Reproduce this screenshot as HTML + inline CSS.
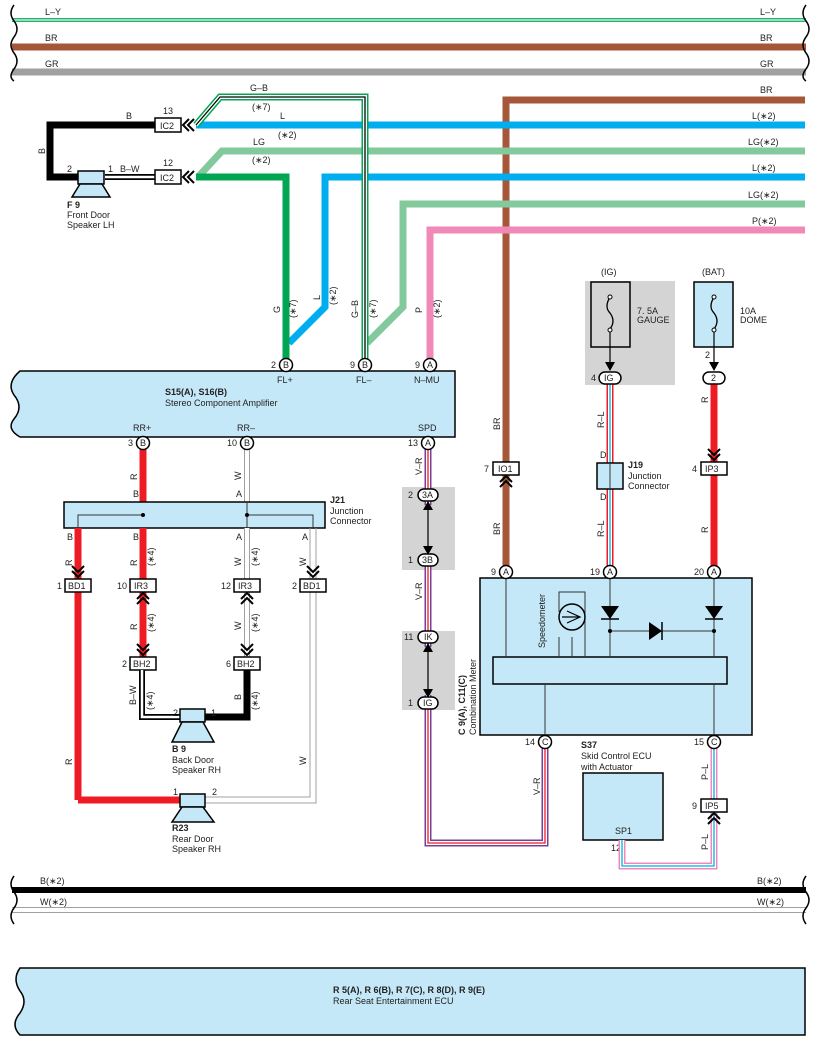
<!DOCTYPE html>
<html><head><meta charset="utf-8"><style>
html,body{margin:0;padding:0;background:#fff}
svg{display:block;font-family:"Liberation Sans",Arial,sans-serif}
text{font-size:9px;fill:#222}
.b{font-weight:bold}
</style></head><body>
<svg width="818" height="1045" viewBox="0 0 818 1045" xmlns="http://www.w3.org/2000/svg">
<defs>
<g id="chL"><polyline points="8,-6 2,0 8,6" fill="none" stroke="#000" stroke-width="2"/><polyline points="13,-6 7,0 13,6" fill="none" stroke="#000" stroke-width="2"/></g>
<g id="chD"><polyline points="-6,-8 0,-2 6,-8" fill="none" stroke="#000" stroke-width="2"/><polyline points="-6,-13 0,-7 6,-13" fill="none" stroke="#000" stroke-width="2"/></g>
<g id="chU"><polyline points="-6,8 0,2 6,8" fill="none" stroke="#000" stroke-width="2"/><polyline points="-6,13 0,7 6,13" fill="none" stroke="#000" stroke-width="2"/></g>
</defs>

<line x1="12" y1="20" x2="806" y2="20" stroke="#00aeef" stroke-width="4"/>
<line x1="12" y1="20" x2="806" y2="20" stroke="#fff200" stroke-width="1.5"/>
<line x1="12" y1="47" x2="806" y2="47" stroke="#a5573a" stroke-width="7"/>
<line x1="12" y1="72" x2="806" y2="72" stroke="#a0a0a0" stroke-width="7"/>
<path d="M14,5 q-6,8 0,16 q6,8 0,16 q-6,8 0,16 q6,8 0,16 q-6,8 0,12" fill="none" stroke="#000" stroke-width="1.5"/>
<path d="M806,5 q-6,8 0,16 q6,8 0,16 q-6,8 0,16 q6,8 0,16 q-6,8 0,12" fill="none" stroke="#000" stroke-width="1.5"/>
<text x="45" y="15">L–Y</text><text x="760" y="15">L–Y</text>
<text x="45" y="41">BR</text><text x="760" y="41">BR</text>
<text x="45" y="67">GR</text><text x="760" y="67">GR</text>

<polyline points="805,100 506,100 506,572" fill="none" stroke="#a5573a" stroke-width="7"/>
<text x="760" y="93">BR</text>
<line x1="196" y1="125" x2="805" y2="125" stroke="#00aeef" stroke-width="7"/>
<text x="280" y="119">L</text><text x="278" y="138">(∗2)</text><text x="752" y="119">L(∗2)</text>
<polyline points="805,151 222,151 198,177" fill="none" stroke="#82c99c" stroke-width="7"/>
<text x="253" y="145">LG</text><text x="252" y="163">(∗2)</text><text x="748" y="145">LG(∗2)</text>
<polyline points="805,177 325,177 325,307 289,343" fill="none" stroke="#00aeef" stroke-width="7"/>
<text x="752" y="171">L(∗2)</text>
<polyline points="805,204 403,204 403,307 367,343" fill="none" stroke="#82c99c" stroke-width="7"/>
<text x="748" y="198">LG(∗2)</text>
<polyline points="805,230 430,230 430,359" fill="none" stroke="#f088b8" stroke-width="7"/>
<text x="752" y="224">P(∗2)</text>
<polyline points="196,177 286,177 286,359" fill="none" stroke="#00a651" stroke-width="7"/>
<polyline points="196,125 220,97 365,97 365,359" fill="none" stroke="#00a651" stroke-width="7"/>
<polyline points="196,125 220,97 365,97 365,359" fill="none" stroke="#fff" stroke-width="4"/>
<polyline points="196,125 220,97 365,97 365,359" fill="none" stroke="#000" stroke-width="1.3"/>
<text x="250" y="91">G–B</text><text x="252" y="110">(∗7)</text>
<polyline points="155,125 50,125 50,177 78,177" fill="none" stroke="#000" stroke-width="7"/>
<text x="126" y="119">B</text>
<text transform="translate(45,154) rotate(-90)">B</text>
<line x1="105" y1="177" x2="155" y2="177" stroke="#000" stroke-width="6"/>
<line x1="105" y1="177" x2="155" y2="177" stroke="#fff" stroke-width="2.5"/>
<text x="67" y="172">2</text><text x="108" y="172">1</text><text x="120" y="172">B–W</text>
<rect x="155" y="118" width="26" height="14" fill="#fff" stroke="#000" stroke-width="1.5"/><text x="160" y="129">IC2</text><text x="163" y="114">13</text>
<rect x="155" y="170" width="26" height="14" fill="#fff" stroke="#000" stroke-width="1.5"/><text x="160" y="181">IC2</text><text x="163" y="166">12</text>
<use href="#chL" x="181" y="125"/><use href="#chL" x="181" y="177"/>
<rect x="78" y="171" width="26" height="13" fill="#c5e8f8" stroke="#000" stroke-width="1.5"/>
<polygon points="80,184 102,184 110,197 72,197" fill="#c5e8f8" stroke="#000" stroke-width="1.5"/>
<text x="67" y="208" class="b">F 9</text><text x="67" y="218">Front Door</text><text x="67" y="228">Speaker LH</text>
<text transform="translate(280,313) rotate(-90)">G</text><text transform="translate(296,318) rotate(-90)">(∗7)</text>
<text transform="translate(320,300) rotate(-90)">L</text><text transform="translate(336,305) rotate(-90)">(∗2)</text>
<text transform="translate(358,318) rotate(-90)">G–B</text><text transform="translate(376,318) rotate(-90)">(∗7)</text>
<text transform="translate(422,313) rotate(-90)">P</text><text transform="translate(440,318) rotate(-90)">(∗2)</text>

<path d="M20,371 L455,371 L455,437 L20,437 q-14,-8 -6,-18 q10,-12 0,-24 q-8,-12 6,-24 z" fill="#c5e8f8" stroke="#000" stroke-width="1.5"/>
<text x="165" y="395" class="b">S15(A), S16(B)</text><text x="165" y="406">Stereo Component Amplifier</text>
<text x="277" y="383">FL+</text><text x="356" y="383">FL–</text><text x="414" y="383">N–MU</text>
<text x="133" y="431">RR+</text><text x="237" y="431">RR–</text><text x="418" y="431">SPD</text>

<line x1="143" y1="443" x2="143" y2="585" stroke="#ed1c24" stroke-width="7"/>
<line x1="247" y1="443" x2="247" y2="505" stroke="#a0a0a0" stroke-width="6"/><line x1="247" y1="443" x2="247" y2="505" stroke="#fff" stroke-width="4"/>
<rect x="64" y="502" width="261" height="26" fill="#c5e8f8" stroke="#000" stroke-width="1.5"/>
<polyline points="78,528 78,515 143,515" fill="none" stroke="#333" stroke-width="1"/>
<polyline points="313,528 313,515 247,515" fill="none" stroke="#333" stroke-width="1"/>
<line x1="247" y1="502" x2="247" y2="528" stroke="#333" stroke-width="1"/>
<circle cx="143" cy="515" r="2" fill="#000"/><circle cx="247" cy="515" r="2" fill="#000"/>
<text x="330" y="503" class="b">J21</text><text x="330" y="514">Junction</text><text x="330" y="524">Connector</text>
<text x="133" y="497">B</text><text x="236" y="497">A</text>
<text transform="translate(137,480) rotate(-90)">R</text><text transform="translate(241,480) rotate(-90)">W</text>
<line x1="78" y1="528" x2="78" y2="800" stroke="#ed1c24" stroke-width="7"/>
<polyline points="78,800 180,800" fill="none" stroke="#ed1c24" stroke-width="7"/>
<line x1="143" y1="528" x2="143" y2="663" stroke="#ed1c24" stroke-width="7"/>
<line x1="247" y1="528" x2="247" y2="663" stroke="#a0a0a0" stroke-width="6"/><line x1="247" y1="528" x2="247" y2="663" stroke="#fff" stroke-width="4"/>
<polyline points="310,528 310,797 205,797" fill="none" stroke="#a0a0a0" stroke-width="1"/>
<polyline points="316,528 316,803 205,803" fill="none" stroke="#a0a0a0" stroke-width="1"/>
<text x="67" y="540">B</text><text x="133" y="540">B</text><text x="236" y="540">A</text><text x="302" y="540">A</text>
<text transform="translate(72,566) rotate(-90)">R</text><text transform="translate(137,566) rotate(-90)">R</text><text transform="translate(154,566) rotate(-90)">(∗4)</text>
<text transform="translate(241,566) rotate(-90)">W</text><text transform="translate(258,566) rotate(-90)">(∗4)</text><text transform="translate(306,566) rotate(-90)">W</text>
<text transform="translate(137,630) rotate(-90)">R</text><text transform="translate(154,632) rotate(-90)">(∗4)</text>
<text transform="translate(241,630) rotate(-90)">W</text><text transform="translate(258,632) rotate(-90)">(∗4)</text>
<use href="#chD" x="78" y="579"/><use href="#chD" x="313" y="579"/>
<use href="#chU" x="143" y="591"/><use href="#chU" x="247" y="591"/>
<use href="#chD" x="143" y="657"/><use href="#chD" x="247" y="657"/>
<g fill="#fff" stroke="#000" stroke-width="1.5">
<rect x="65" y="579" width="26" height="13"/><rect x="130" y="579" width="26" height="13"/><rect x="234" y="579" width="26" height="13"/><rect x="300" y="579" width="26" height="13"/>
<rect x="130" y="657" width="26" height="13"/><rect x="234" y="657" width="26" height="13"/>
</g>
<text x="68" y="589">BD1</text><text x="134" y="589">IR3</text><text x="238" y="589">IR3</text><text x="303" y="589">BD1</text>
<text x="57" y="589">1</text><text x="117" y="589">10</text><text x="221" y="589">12</text><text x="292" y="589">2</text>
<text x="133" y="667">BH2</text><text x="237" y="667">BH2</text><text x="122" y="667">2</text><text x="226" y="667">6</text>
<polyline points="142,670 142,717 180,717" fill="none" stroke="#000" stroke-width="6"/>
<polyline points="142,670 142,717 180,717" fill="none" stroke="#fff" stroke-width="2.5"/>
<polyline points="247,670 247,717 205,717" fill="none" stroke="#000" stroke-width="7"/>
<text transform="translate(136,705) rotate(-90)">B–W</text><text transform="translate(153,710) rotate(-90)">(∗4)</text>
<text transform="translate(241,700) rotate(-90)">B</text><text transform="translate(258,710) rotate(-90)">(∗4)</text>
<text x="173" y="716">2</text><text x="211" y="716">1</text>
<rect x="180" y="709" width="25" height="13" fill="#c5e8f8" stroke="#000" stroke-width="1.5"/>
<polygon points="182,722 203,722 214,742 172,742" fill="#c5e8f8" stroke="#000" stroke-width="1.5"/>
<text x="172" y="752" class="b">B 9</text><text x="172" y="763">Back Door</text><text x="172" y="773">Speaker RH</text>
<text transform="translate(72,765) rotate(-90)">R</text><text transform="translate(306,765) rotate(-90)">W</text>
<text x="173" y="795">1</text><text x="212" y="795">2</text>
<rect x="180" y="794" width="25" height="13" fill="#c5e8f8" stroke="#000" stroke-width="1.5"/>
<polygon points="182,807 203,807 214,822 172,822" fill="#c5e8f8" stroke="#000" stroke-width="1.5"/>
<text x="172" y="831" class="b">R23</text><text x="172" y="842">Rear Door</text><text x="172" y="852">Speaker RH</text>

<rect x="402" y="487" width="53" height="83" fill="#d4d4d4"/>
<rect x="402" y="631" width="53" height="79" fill="#d4d4d4"/>
<polyline points="428,443 428,843 545,843 545,742" fill="none" stroke="#7b3f98" stroke-width="7"/>
<polyline points="428,443 428,843 545,843 545,742" fill="none" stroke="#fff" stroke-width="4"/>
<polyline points="428,443 428,843 545,843 545,742" fill="none" stroke="#ed1c24" stroke-width="1.3"/>
<rect x="420" y="505" width="16" height="48" fill="#d4d4d4"/>
<rect x="420" y="647" width="16" height="48" fill="#d4d4d4"/>
<line x1="428" y1="505" x2="428" y2="551" stroke="#000" stroke-width="1.2"/>
<line x1="428" y1="647" x2="428" y2="694" stroke="#000" stroke-width="1.2"/>
<polygon points="423,510 428,501 433,510" fill="#000"/><polygon points="423,546 428,555 433,546" fill="#000"/>
<polygon points="423,652 428,643 433,652" fill="#000"/><polygon points="423,689 428,698 433,689" fill="#000"/>
<text transform="translate(422,475) rotate(-90)">V–R</text><text transform="translate(422,600) rotate(-90)">V–R</text>
<text transform="translate(540,795) rotate(-90)">V–R</text>
<g fill="#fff" stroke="#000" stroke-width="1.5">
<rect x="418" y="489" width="20" height="12" rx="6"/><rect x="418" y="554" width="20" height="12" rx="6"/>
<rect x="418" y="631" width="20" height="12" rx="6"/><rect x="418" y="697" width="20" height="12" rx="6"/>
</g>
<text x="422" y="498">3A</text><text x="422" y="563">3B</text><text x="424" y="640">IK</text><text x="423" y="706">IG</text>
<text x="408" y="498">2</text><text x="408" y="563">1</text><text x="404" y="640">11</text><text x="408" y="706">1</text>

<rect x="585" y="281" width="90" height="104" fill="#d4d4d4"/>
<rect x="591" y="282" width="39" height="65" fill="#d4d4d4" stroke="#000" stroke-width="1.5"/>
<rect x="694" y="282" width="39" height="65" fill="#c5e8f8" stroke="#000" stroke-width="1.5"/>
<path d="M610,297 q-6,10 0,16 q6,8 0,16" fill="none" stroke="#000" stroke-width="1.3"/>
<path d="M714,297 q-6,10 0,16 q6,8 0,16" fill="none" stroke="#000" stroke-width="1.3"/>
<circle cx="610" cy="297" r="2" fill="#fff" stroke="#000"/><circle cx="610" cy="330" r="2" fill="#fff" stroke="#000"/>
<circle cx="714" cy="297" r="2" fill="#fff" stroke="#000"/><circle cx="714" cy="330" r="2" fill="#fff" stroke="#000"/>
<line x1="610" y1="332" x2="610" y2="370" stroke="#000" stroke-width="1.2"/>
<line x1="714" y1="332" x2="714" y2="370" stroke="#000" stroke-width="1.2"/>
<polygon points="605,362 610,371 615,362" fill="#000"/><polygon points="709,362 714,371 719,362" fill="#000"/>
<text x="601" y="275">(IG)</text><text x="702" y="275">(BAT)</text>
<text x="637" y="314">7. 5A</text><text x="637" y="323">GAUGE</text>
<text x="740" y="314">10A</text><text x="740" y="323">DOME</text><text x="705" y="358">2</text>
<line x1="610" y1="384" x2="610" y2="572" stroke="#ed1c24" stroke-width="7"/>
<line x1="610" y1="384" x2="610" y2="572" stroke="#fff" stroke-width="4"/>
<line x1="610" y1="384" x2="610" y2="572" stroke="#00aeef" stroke-width="1.3"/>
<rect x="597" y="463" width="26" height="26" fill="#c5e8f8" stroke="#000" stroke-width="1.5"/>
<line x1="610" y1="463" x2="610" y2="489" stroke="#333" stroke-width="1"/>
<text x="600" y="458">D</text><text x="600" y="500">D</text>
<text x="628" y="468" class="b">J19</text><text x="628" y="479">Junction</text><text x="628" y="489">Connector</text>
<text transform="translate(604,428) rotate(-90)">R–L</text><text transform="translate(604,537) rotate(-90)">R–L</text>
<line x1="714" y1="384" x2="714" y2="572" stroke="#ed1c24" stroke-width="7"/>
<text transform="translate(708,403) rotate(-90)">R</text><text transform="translate(708,533) rotate(-90)">R</text>
<text transform="translate(500,430) rotate(-90)">BR</text><text transform="translate(500,535) rotate(-90)">BR</text>
<use href="#chU" x="506" y="474"/><use href="#chD" x="714" y="462"/>
<rect x="493" y="462" width="26" height="13" fill="#fff" stroke="#000" stroke-width="1.5"/><text x="498" y="472">IO1</text><text x="484" y="472">7</text>
<rect x="701" y="462" width="26" height="13" fill="#fff" stroke="#000" stroke-width="1.5"/><text x="705" y="472">IP3</text><text x="692" y="472">4</text>
<rect x="599" y="372" width="22" height="12" rx="6" fill="#fff" stroke="#000" stroke-width="1.5"/><text x="604" y="381">IG</text><text x="591" y="381">4</text>
<rect x="703" y="372" width="22" height="12" rx="6" fill="#fff" stroke="#000" stroke-width="1.5"/><text x="711" y="381">2</text>

<rect x="480" y="578" width="272" height="157" fill="#c5e8f8" stroke="#000" stroke-width="1.5"/>
<rect x="493" y="657" width="234" height="27" fill="#c5e8f8" stroke="#000" stroke-width="1.5"/>
<g stroke="#333" stroke-width="1" fill="none">
<line x1="506" y1="578" x2="506" y2="657"/><line x1="610" y1="578" x2="610" y2="657"/><line x1="714" y1="578" x2="714" y2="657"/>
<line x1="610" y1="631" x2="714" y2="631"/>
<line x1="545" y1="684" x2="545" y2="735"/><line x1="714" y1="684" x2="714" y2="735"/>
<polyline points="559,657 559,637"/><polyline points="572,657 572,637"/><polyline points="585,657 585,637"/>
<polyline points="559,612 559,592 585,592 585,657"/>
</g>
<circle cx="572" cy="617" r="13" fill="#c5e8f8" stroke="#000" stroke-width="1.5"/>
<path d="M567,611 L580,617 L567,623 M580,617 L562,617" fill="none" stroke="#000" stroke-width="1.2"/>
<text transform="translate(545,648) rotate(-90)">Speedometer</text>
<polygon points="601,606 619,606 610,619" fill="#000"/><line x1="601" y1="619" x2="619" y2="619" stroke="#000" stroke-width="1.5"/>
<polygon points="705,606 723,606 714,619" fill="#000"/><line x1="705" y1="619" x2="723" y2="619" stroke="#000" stroke-width="1.5"/>
<polygon points="649,622 649,640 662,631" fill="#000"/><line x1="662" y1="622" x2="662" y2="640" stroke="#000" stroke-width="1.5"/>
<circle cx="610" cy="631" r="2" fill="#000"/><circle cx="714" cy="631" r="2" fill="#000"/>
<text transform="translate(465,735) rotate(-90)" class="b">C 9(A), C11(C)</text>
<text transform="translate(476,735) rotate(-90)">Combination Meter</text>
<rect x="583" y="773" width="80" height="67" fill="#c5e8f8" stroke="#000" stroke-width="1.5"/>
<text x="581" y="748" class="b">S37</text><text x="581" y="759">Skid Control ECU</text><text x="581" y="770">with Actuator</text>
<text x="615" y="834">SP1</text><text x="611" y="851">12</text>
<polyline points="622,840 622,866 714,866 714,742" fill="none" stroke="#f088b8" stroke-width="7"/>
<polyline points="622,840 622,866 714,866 714,742" fill="none" stroke="#fff" stroke-width="4"/>
<polyline points="622,840 622,866 714,866 714,742" fill="none" stroke="#00aeef" stroke-width="1.3"/>
<text transform="translate(708,780) rotate(-90)">P–L</text><text transform="translate(708,850) rotate(-90)">P–L</text>
<use href="#chU" x="714" y="811"/>
<rect x="701" y="799" width="26" height="13" fill="#fff" stroke="#000" stroke-width="1.5"/><text x="705" y="809">IP5</text><text x="692" y="809">9</text>
<g fill="#fff" stroke="#000" stroke-width="1.5">
<circle cx="286" cy="365" r="6.5"/><circle cx="365" cy="365" r="6.5"/><circle cx="430" cy="365" r="6.5"/>
<circle cx="143" cy="443" r="6.5"/><circle cx="247" cy="443" r="6.5"/><circle cx="428" cy="443" r="6.5"/>
<circle cx="506" cy="572" r="6.5"/><circle cx="610" cy="572" r="6.5"/><circle cx="714" cy="572" r="6.5"/>
<circle cx="545" cy="742" r="6.5"/><circle cx="714" cy="742" r="6.5"/>
</g>
<g font-size="8">
<text x="283" y="368">B</text><text x="362" y="368">B</text><text x="427" y="368">A</text>
<text x="140" y="446">B</text><text x="244" y="446">B</text><text x="425" y="446">A</text>
<text x="503" y="575">A</text><text x="607" y="575">A</text><text x="711" y="575">A</text>
<text x="542" y="745">C</text><text x="711" y="745">C</text>
</g>
<text x="271" y="368">2</text><text x="350" y="368">9</text><text x="415" y="368">9</text>
<text x="128" y="446">3</text><text x="227" y="446">10</text><text x="408" y="446">13</text>
<text x="491" y="575">9</text><text x="590" y="575">19</text><text x="694" y="575">20</text>
<text x="525" y="745">14</text><text x="694" y="745">15</text>

<line x1="12" y1="890" x2="806" y2="890" stroke="#000" stroke-width="6"/>
<line x1="12" y1="910" x2="806" y2="910" stroke="#a0a0a0" stroke-width="6"/>
<line x1="12" y1="910" x2="806" y2="910" stroke="#fff" stroke-width="4"/>
<path d="M14,876 q-6,8 0,16 q6,8 0,16 q-6,8 0,16" fill="none" stroke="#000" stroke-width="1.5"/>
<path d="M806,876 q-6,8 0,16 q6,8 0,16 q-6,8 0,16" fill="none" stroke="#000" stroke-width="1.5"/>
<text x="40" y="884">B(∗2)</text><text x="757" y="884">B(∗2)</text>
<text x="40" y="905">W(∗2)</text><text x="757" y="905">W(∗2)</text>
<path d="M20,968 L805,968 L805,1035 L20,1035 q-10,-10 0,-22 q8,-12 0,-22 q-8,-12 0,-23 z" fill="#c5e8f8" stroke="#000" stroke-width="1.5"/>
<text x="333" y="993" class="b">R 5(A), R 6(B), R 7(C), R 8(D), R 9(E)</text>
<text x="333" y="1004">Rear Seat Entertainment ECU</text>
</svg>
</body></html>
